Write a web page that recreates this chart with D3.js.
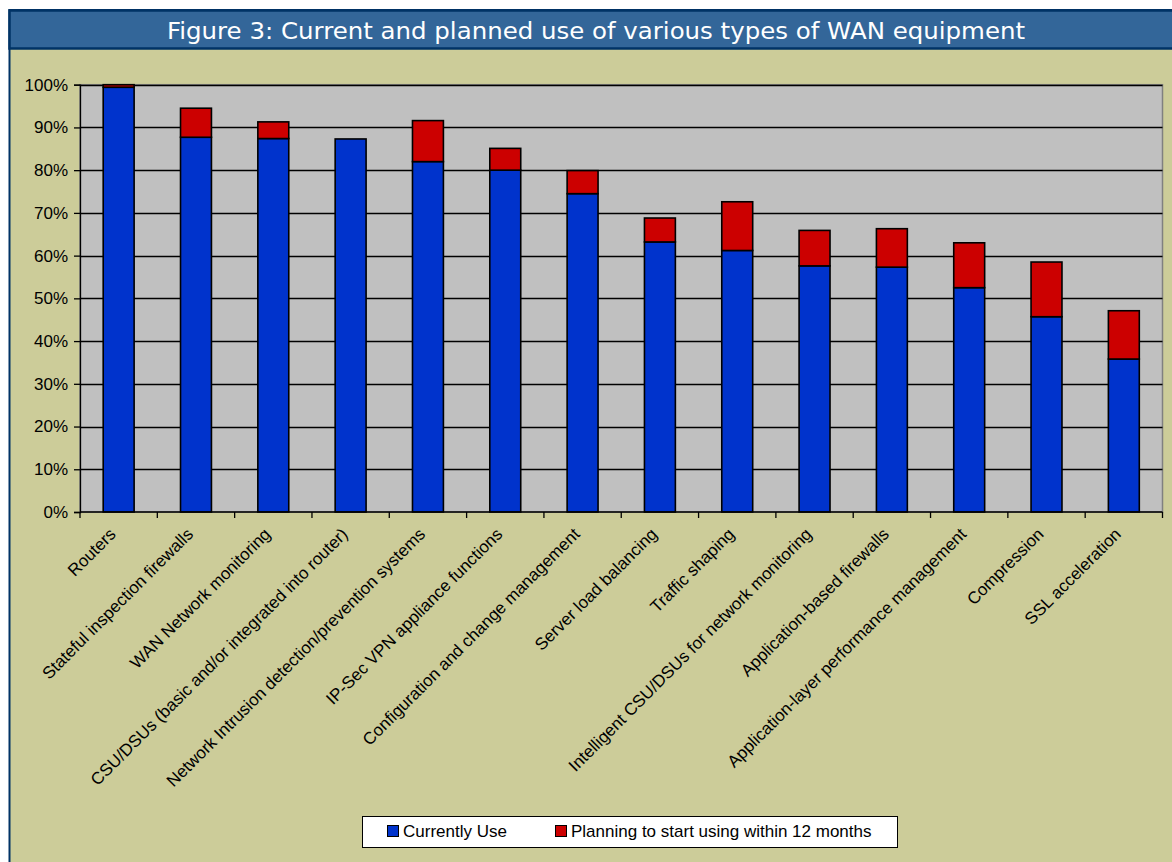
<!DOCTYPE html>
<html>
<head>
<meta charset="utf-8">
<script src="https://cdn.jsdelivr.net/npm/d3@7/dist/d3.min.js"></script>
<style>
  html, body { margin: 0; padding: 0; background: #ffffff; }
  svg { display: block; }
</style>
</head>
<body>
<svg id="chart" width="1172" height="862"></svg>
<script>
// Equipment types, in the order they appear along the x axis
const categories = [
  "Routers",
  "Stateful inspection firewalls",
  "WAN Network monitoring",
  "CSU/DSUs (basic and/or integrated into router)",
  "Network Intrusion detection/prevention systems",
  "IP-Sec VPN appliance functions",
  "Configuration and change management",
  "Server load balancing",
  "Traffic shaping",
  "Intelligent CSU/DSUs for network monitoring",
  "Application-based firewalls",
  "Application-layer performance management",
  "Compression",
  "SSL acceleration"
];

// Share of respondents currently using each type (%)
const currentlyUse = [99.4, 87.7, 87.4, 87.3, 82.0, 80.0, 74.5, 63.2, 61.2, 57.6, 57.3, 52.5, 45.7, 35.8];

// Additional share planning to start within 12 months (%)
const planning = [0.6, 6.8, 3.9, 0.0, 9.6, 5.1, 5.4, 5.6, 11.4, 8.3, 9.0, 10.5, 12.8, 11.3];

const seriesNames = ["Currently Use", "Planning to start using within 12 months"];
const seriesColors = ["#0033CC", "#CC0000"];

const yTicks = [0, 10, 20, 30, 40, 50, 60, 70, 80, 90, 100];
const titleText = "Figure 3: Current and planned use of various types of WAN equipment";

const svg = d3.select("#chart");
const W = 1172, H = 862;
const labelFont = "'Liberation Sans', Arial, sans-serif";

// Outer panel and title bar
svg.append("rect")
  .attr("x", 9.5).attr("y", 10).attr("width", W + 20).attr("height", H + 20)
  .attr("fill", "#CCCC99").attr("stroke", "#003366").attr("stroke-width", 2);

svg.append("rect")
  .attr("x", 9.5).attr("y", 10.5).attr("width", W + 20).attr("height", 38)
  .attr("fill", "#336699").attr("stroke", "#003366").attr("stroke-width", 2.5);

svg.append("text")
  .attr("x", 596).attr("y", 39)
  .attr("text-anchor", "middle")
  .attr("fill", "#ffffff")
  .attr("font-family", "'DejaVu Sans', Verdana, sans-serif")
  .attr("font-size", 23)
  .attr("textLength", 858)
  .attr("lengthAdjust", "spacingAndGlyphs")
  .text(titleText);

// Plot area
const plot = { left: 80, right: 1162.5, top: 84.7, bottom: 512 };

const x = d3.scaleBand()
  .domain(categories)
  .range([plot.left, plot.right])
  .paddingInner(0.6)
  .paddingOuter(0.3);

const xEdges = d3.scaleLinear()
  .domain([0, categories.length])
  .range([plot.left, plot.right]);

const y = d3.scaleLinear()
  .domain([0, 100])
  .range([plot.bottom, plot.top]);

svg.append("rect")
  .attr("x", plot.left).attr("y", plot.top)
  .attr("width", plot.right - plot.left).attr("height", plot.bottom - plot.top)
  .attr("fill", "#C0C0C0").attr("stroke", "#808080").attr("stroke-width", 1.5);

// Horizontal gridlines
svg.append("g")
  .selectAll("line")
  .data(yTicks.filter(t => t > 0))
  .join("line")
  .attr("x1", plot.left).attr("x2", plot.right)
  .attr("y1", d => Math.round(y(d)) + 0.5).attr("y2", d => Math.round(y(d)) + 0.5)
  .attr("stroke", "#000000").attr("stroke-width", 1.3);

// Stacked bars
const table = categories.map((c, i) => ({ cat: c, cur: currentlyUse[i], plan: planning[i] }));
const stacked = d3.stack().keys(["cur", "plan"])(table);

svg.append("g")
  .selectAll("g")
  .data(stacked)
  .join("g")
  .attr("fill", (d, i) => seriesColors[i])
  .selectAll("rect")
  .data(d => d.filter(s => s[1] - s[0] > 0))
  .join("rect")
  .attr("x", d => x(d.data.cat))
  .attr("width", x.bandwidth())
  .attr("y", d => y(d[1]))
  .attr("height", d => y(d[0]) - y(d[1]))
  .attr("stroke", "#000000")
  .attr("stroke-width", 1.6);

// Y axis
const yAxis = d3.axisLeft(y)
  .tickValues(yTicks)
  .tickFormat(d => d + "%")
  .tickSize(6)
  .tickPadding(6);

const yg = svg.append("g")
  .attr("transform", `translate(${plot.left},0)`)
  .call(yAxis);
yg.select(".domain").attr("stroke", "#000").attr("stroke-width", 1.3);
yg.selectAll(".tick line").attr("stroke", "#000").attr("stroke-width", 1.3);
yg.selectAll(".tick text")
  .attr("fill", "#000")
  .attr("font-family", labelFont)
  .attr("font-size", 17);

// X axis: baseline, boundary ticks and rotated labels
svg.append("line")
  .attr("x1", plot.left).attr("x2", plot.right)
  .attr("y1", plot.bottom).attr("y2", plot.bottom)
  .attr("stroke", "#000").attr("stroke-width", 1.3);

svg.append("g")
  .selectAll("line")
  .data(d3.range(categories.length + 1))
  .join("line")
  .attr("x1", d => xEdges(d)).attr("x2", d => xEdges(d))
  .attr("y1", plot.bottom).attr("y2", plot.bottom + 6)
  .attr("stroke", "#000").attr("stroke-width", 1.3);

svg.append("g")
  .selectAll("text")
  .data(categories)
  .join("text")
  .attr("transform", d => `translate(${x(d) + x.bandwidth() / 2 - 6},${plot.bottom + 19}) rotate(-45)`)
  .attr("text-anchor", "end")
  .attr("dy", "0.35em")
  .attr("fill", "#000")
  .attr("font-family", labelFont)
  .attr("font-size", 17)
  .text(d => d);

// Legend
const legend = svg.append("g");
legend.append("rect")
  .attr("x", 362.5).attr("y", 816.5).attr("width", 535).attr("height", 31)
  .attr("fill", "#ffffff").attr("stroke", "#000").attr("stroke-width", 1);

const legendItems = [
  { name: seriesNames[0], color: seriesColors[0], x: 387 },
  { name: seriesNames[1], color: seriesColors[1], x: 555 }
];
const li = legend.selectAll("g.item")
  .data(legendItems)
  .join("g")
  .attr("class", "item")
  .attr("transform", d => `translate(${d.x},825)`);
li.append("rect")
  .attr("x", 0.5).attr("y", 0.5).attr("width", 11).attr("height", 11)
  .attr("fill", d => d.color).attr("stroke", "#000").attr("stroke-width", 1);
li.append("text")
  .attr("x", 16).attr("y", 6).attr("dy", "0.35em")
  .attr("fill", "#000")
  .attr("font-family", labelFont)
  .attr("font-size", 17)
  .text(d => d.name);
</script>
</body>
</html>
